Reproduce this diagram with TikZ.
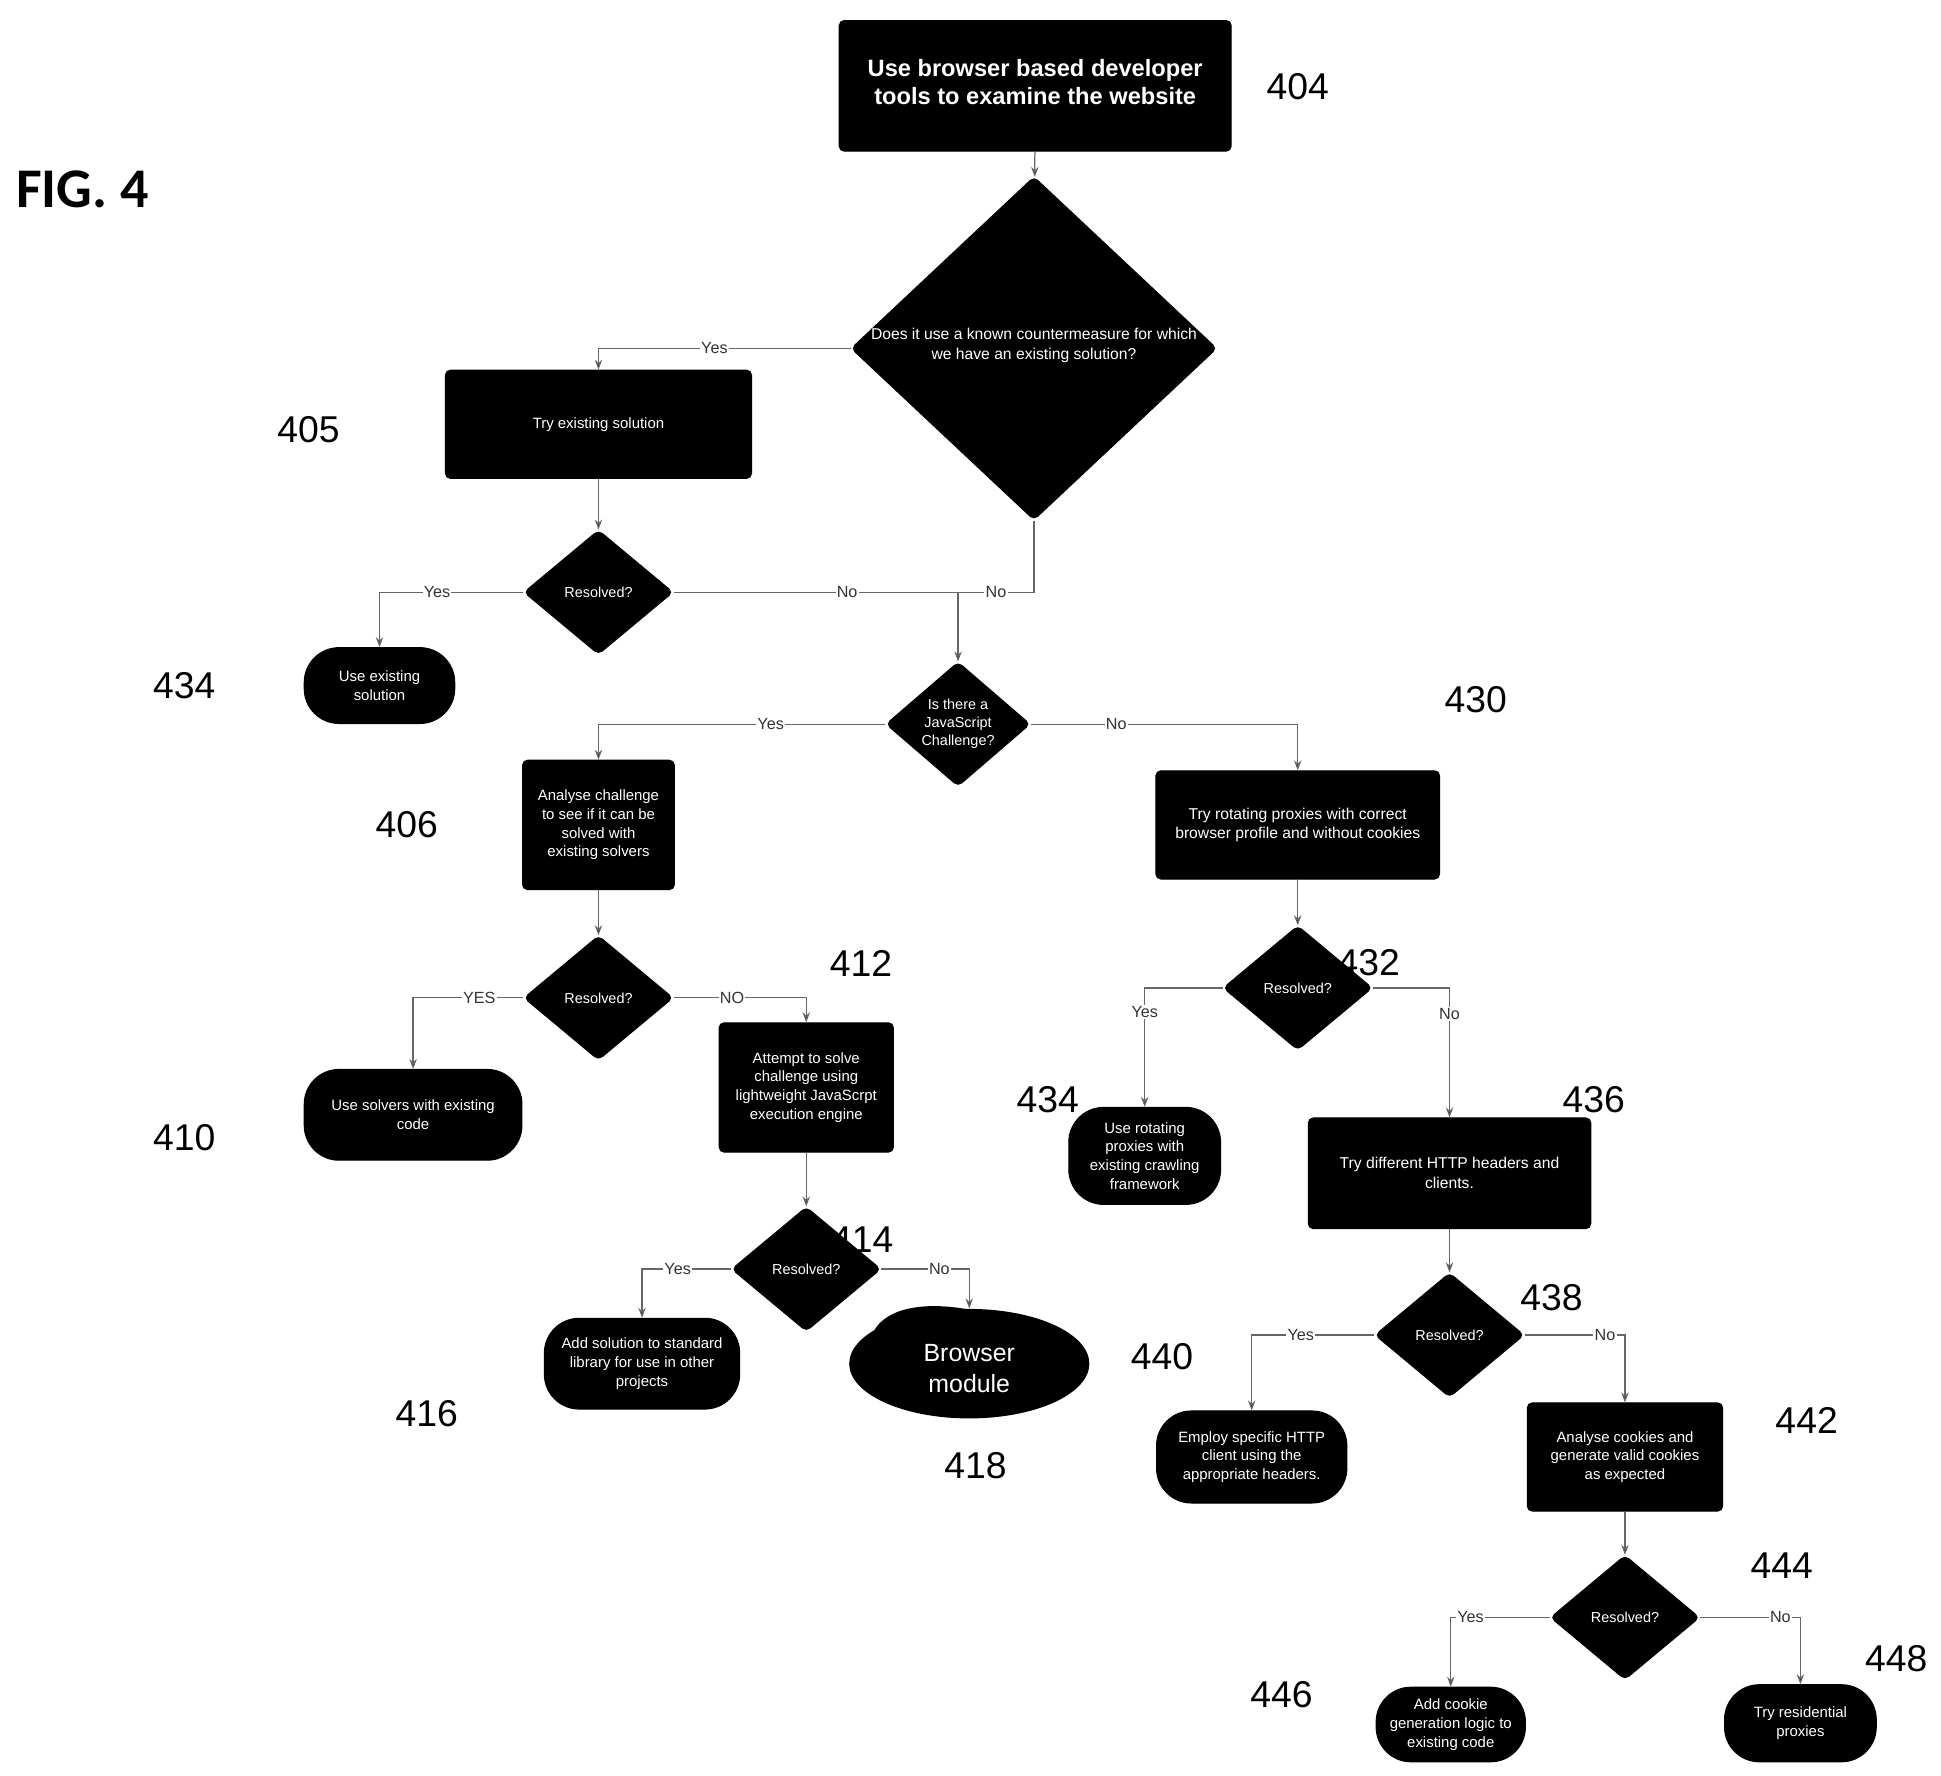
\documentclass[tikz,border=0pt]{standalone}
\usepackage{fontspec}
\setmainfont{Liberation Sans}
\newfontfamily\figfont{Carlito}
\usetikzlibrary{shapes.geometric,arrows.meta}
\begin{document}
\begin{tikzpicture}[x=0.5pt,y=-0.5pt,
 box/.style={fill=black,draw=black,rounded corners=2pt,text=white,align=center,inner sep=1pt,font=\fontsize{6}{7.5}\selectfont},
 term/.style={box,rounded corners=14pt},
 dia/.style={diamond,fill=black,draw=black,inner sep=0pt,rounded corners=2pt},
 dtxt/.style={text=white,align=center,font=\fontsize{5.8}{7.2}\selectfont},
 conn/.style={draw=black!60,line width=0.5pt,-{Stealth[length=4pt,width=3pt,fill=black]}},
 line/.style={draw=black!60,line width=0.5pt},
 lbl/.style={fill=white,inner sep=0.5pt,font=\fontsize{6.5}{7}\selectfont,text=black!80},
 num/.style={font=\fontsize{15}{16}\selectfont}]
\useasboundingbox (0,0) rectangle (1560,1427);
\node[font=\figfont\bfseries\fontsize{22.5}{24}\selectfont,anchor=west] (fig) at (6,152) {FIG. 4};
% nodes
\node[box,minimum width=157.5pt,minimum height=52.5pt] (b404) at (832,69) {};
\node[text=white,align=center,font=\bfseries\fontsize{9.5}{11.5}\selectfont] (b404t) at (832,66) {Use browser based developer\\tools to examine the website};
\node[dia,minimum width=147pt,minimum height=138pt] (d1) at (831,280) {};
\node[dtxt,font=\fontsize{6.3}{8}\selectfont] (d1t) at (831,278) {Does it use a known countermeasure for which\\we have an existing solution?};
\node[box,minimum width=123pt,minimum height=43.5pt] (b405) at (481,341) {Try existing solution};
\node[dia,minimum width=60pt,minimum height=50pt] (r1) at (481,476) {};
\node[dtxt] (r1t) at (481,476) {Resolved?};
\node[term,minimum width=60.5pt,minimum height=30.5pt] (t434) at (305,551) {Use existing\\solution};
\node[dia,minimum width=58pt,minimum height=50pt] (d2) at (770,582) {};
\node[dtxt] (d2t) at (770,582) {Is there a\\JavaScript\\Challenge?};
\node[box,minimum width=61pt,minimum height=52pt] (b406) at (481,663) {Analyse challenge\\to see if it can be\\solved with\\existing  solvers};
\node[dia,minimum width=60pt,minimum height=50pt] (r2) at (481,802) {};
\node[dtxt] (r2t) at (481,802) {Resolved?};
\node[term,minimum width=87.5pt,minimum height=36.5pt] (t410) at (332,896) {Use solvers with existing\\code};
\node[box,minimum width=70pt,minimum height=52pt] (b412) at (648,874) {Attempt to solve\\challenge using\\lightweight JavaScrpt\\execution engine};
\node[dia,minimum width=60pt,minimum height=50pt] (r3) at (648,1020) {};
\node[dtxt] (r3t) at (648,1020) {Resolved?};
\node[term,minimum width=78.5pt,minimum height=36.5pt] (t416) at (516,1096) {Add solution to standard\\library for use in other\\projects};
\node[ellipse,fill=black,minimum width=96.5pt,minimum height=44pt,inner sep=0pt] (e418) at (779,1096) {};
\fill[black] (700,1075) .. controls (710,1045) and (760,1045) .. (800,1058) -- (800,1090) -- cycle;
\node[text=white,align=center,font=\fontsize{10}{12.5}\selectfont] (e418t) at (779,1100) {Browser\\module};
\node[box,minimum width=114pt,minimum height=43.5pt,font=\fontsize{6.3}{8}\selectfont] (b430) at (1043,663) {Try rotating proxies with correct\\browser profile and without cookies};
\node[dia,minimum width=60pt,minimum height=50pt] (r4) at (1043,794) {};
\node[dtxt] (r4t) at (1043,794) {Resolved?};
\node[term,minimum width=61pt,minimum height=39pt] (t434b) at (920,929) {Use rotating\\proxies with\\existing crawling\\framework};
\node[box,minimum width=113.5pt,minimum height=44.5pt,font=\fontsize{6.3}{8}\selectfont] (b436) at (1165,943) {Try different HTTP headers and\\clients.};
\node[dia,minimum width=60pt,minimum height=50pt] (r5) at (1165,1073) {};
\node[dtxt] (r5t) at (1165,1073) {Resolved?};
\node[term,minimum width=76.5pt,minimum height=37pt] (t440) at (1006,1171) {Employ specific HTTP\\client using the\\appropriate headers.};
\node[box,minimum width=78.5pt,minimum height=43.5pt] (b442) at (1306,1171) {Analyse cookies and\\generate valid cookies\\as expected};
\node[dia,minimum width=60pt,minimum height=50pt] (r6) at (1306,1300) {};
\node[dtxt] (r6t) at (1306,1300) {Resolved?};
\node[term,minimum width=60pt,minimum height=30pt] (t446) at (1166,1386) {Add cookie\\generation logic to\\existing code};
\node[term,minimum width=61pt,minimum height=31pt] (t448) at (1447,1385) {Try residential\\proxies};
% numbers
\node[num] (n404) at (1043,70) {404};
\node[num] (n405) at (248,345) {405};
\node[num] (n434) at (148,551) {434};
\node[num] (n406) at (327,663) {406};
\node[num] (n410) at (148,914) {410};
\node[num] (n412) at (692,774) {412};
\node[num] (n414) at (693,996) {414};
\node[num] (n416) at (343,1136) {416};
\node[num] (n418) at (784,1178) {418};
\node[num] (n430) at (1186,562) {430};
\node[num] (n432) at (1100,774) {432};
\node[num] (n434b) at (842,884) {434};
\node[num] (n436) at (1281,884) {436};
\node[num] (n438) at (1247,1043) {438};
\node[num] (n440) at (934,1090) {440};
\node[num] (n442) at (1452,1142) {442};
\node[num] (n444) at (1432,1258) {444};
\node[num] (n446) at (1030,1362) {446};
\node[num] (n448) at (1524,1333) {448};
% connectors
\coordinate (m) at (770,476);
\draw[conn] (b404) -- (d1);
\draw[conn] (d1.west) -| (b405.north) node[pos=0.27,lbl]{Yes};
\draw[conn] (b405) -- (r1);
\draw[conn] (r1.west) -| (t434.north) node[pos=0.3,lbl]{Yes};
\draw[line] (r1.east) -- (m) node[pos=0.61,lbl]{No};
\draw[line] (d1.south) |- (m) node[pos=0.75,lbl]{No};
\draw[conn] (m) -- (d2.north);
\draw[conn] (d2.west) -| (b406.north) node[pos=0.2,lbl]{Yes};
\draw[conn] (d2.east) -| (b430.north) node[pos=0.16,lbl]{No};
\draw[conn] (b406) -- (r2);
\draw[conn] (r2.west) -| (t410.north) node[pos=0.2,lbl]{YES};
\draw[conn] (r2.east) -| (b412.north) node[pos=0.22,lbl]{NO};
\draw[conn] (b412) -- (r3);
\draw[conn] (r3.west) -| (t416.north) node[pos=0.3,lbl]{Yes};
\draw[conn] (r3.east) -| (e418.north) node[pos=0.33,lbl]{No};
\draw[conn] (b430) -- (r4);
\draw[conn] (r4.west) -| (t434b.north) node[pos=0.6,lbl]{Yes};
\draw[conn] (r4.east) -| (b436.north) node[pos=0.6,lbl]{No};
\draw[conn] (b436) -- (r5);
\draw[conn] (r5.west) -| (t440.north) node[pos=0.3,lbl]{Yes};
\draw[conn] (r5.east) -| (b442.north) node[pos=0.4,lbl]{No};
\draw[conn] (b442) -- (r6);
\draw[conn] (r6.west) -| (t446.north) node[pos=0.4,lbl]{Yes};
\draw[conn] (r6.east) -| (t448.north) node[pos=0.4,lbl]{No};
\end{tikzpicture}
\end{document}
